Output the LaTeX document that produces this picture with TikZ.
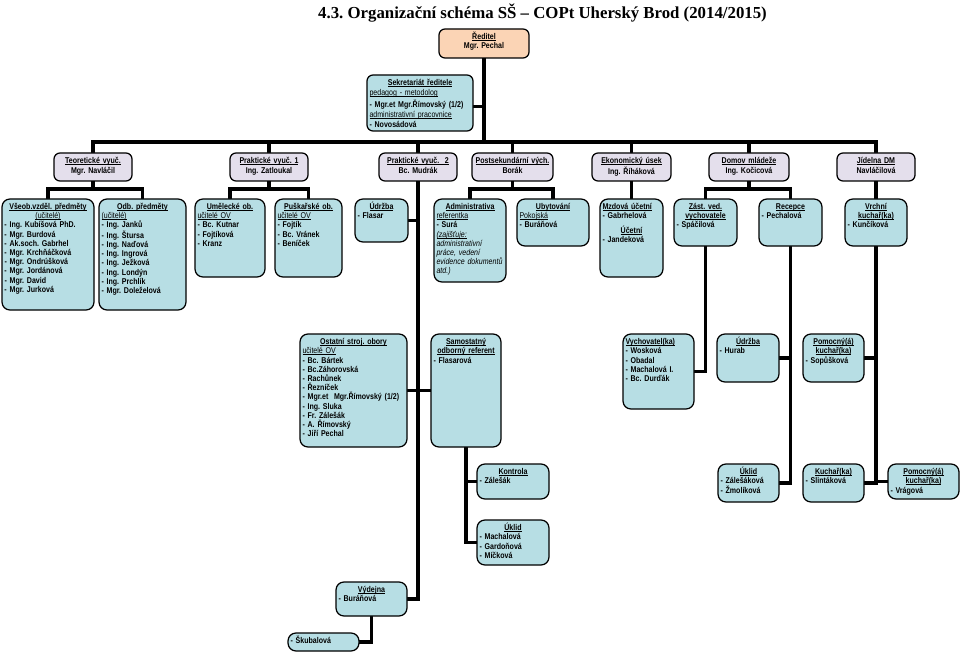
\documentclass[tikz,border=0pt]{standalone}
\usepackage{fontspec}
\setmainfont{Liberation Sans}[FakeStretch=0.84]
\newfontfamily\titlefont{Liberation Serif}
\usetikzlibrary{calc}
\pgfdeclarelayer{bgw}
\pgfdeclarelayer{bg}
\pgfsetlayers{bgw,bg,main}
\definecolor{cBox}{HTML}{B7DEE4}
\definecolor{cLav}{HTML}{E4DFEC}
\definecolor{cPeach}{HTML}{FBD4B5}
\frenchspacing
\newcommand{\ul}[1]{\leavevmode\setbox0\hbox{#1}\rlap{\rule[-1.1pt]{\wd0}{0.55pt}}\box0}
\newcommand{\ct}[1]{\makebox[\linewidth][c]{#1}}
\newcommand{\jt}[1]{\makebox[\linewidth][s]{#1}}
\newcommand{\bx}[7]{%
  \pgfmathsetmacro{\bw}{#5-#3}\pgfmathsetmacro{\bh}{#6-#4}\pgfmathsetmacro{\tw}{#5-#3-5}%
  \node[#2, minimum width=\bw pt, minimum height=\bh pt, anchor=north west] (#1) at (#3,#4) {};
  \node[txt, text width=\tw pt] (#1-t) at ([shift={(2.5pt,-4pt)}]#1.north west) {#7};
}
\tikzset{
  basebox/.style={draw=black, line width=1.25pt, inner sep=0pt, outer sep=0pt, rounded corners=6pt},
  tbox/.style={basebox, fill=cBox},
  lbox/.style={basebox, fill=cLav},
  pbox/.style={basebox, fill=cPeach},
  txt/.style={inner sep=0pt, outer sep=0pt, anchor=north west, align=left, text height=6.6pt,
    font=\frenchspacing\fontsize{8.4}{9.2}\selectfont\bfseries},
  conn/.style={line width=3.2pt, black}
}
\begin{document}
\begin{tikzpicture}[x=1pt,y=-1pt]
\useasboundingbox (0,0) rectangle (960,652);
\begin{pgfonlayer}{bgw}
\fill[white] (0,0) rectangle (960,652);
\end{pgfonlayer}

\node[font=\titlefont\fontsize{16.8}{18}\selectfont\bfseries] (title) at (542.5,13) {4.3. Organizační schéma SŠ – COPt Uherský Brod (2014/2015)};

% top
\bx{dir}{pbox}{439}{29}{529}{58}{\ct{\ul{Ředitel}}\\\ct{Mgr. Pechal}}
\bx{sekr}{tbox}{367}{75}{473}{131}{\ct{\ul{Sekretariát ředitele}}\\[1.1pt]{\mdseries\ul{pedagog - metodolog}}\\[1.1pt]- Mgr.et Mgr.Římovský (1/2)\\[1.1pt]{\mdseries\ul{administrativní pracovnice}}\\[1.1pt]- Novosádová}

% level 2
\bx{teo}{lbox}{54}{153}{132}{181}{\ct{\ul{Teoretické vyuč.}}\\[0.8pt]\ct{Mgr. Navláčil}}
\bx{pv1}{lbox}{230}{153}{308}{181}{\ct{\ul{Praktické vyuč. 1}}\\[0.8pt]\ct{Ing. Zatloukal}}
\bx{pv2}{lbox}{379}{153}{457}{181}{\ct{\ul{Praktické vyuč.~~2}}\\[0.8pt]\ct{Bc. Mudrák}}
\bx{post}{lbox}{472}{153}{553}{181}{\ct{\ul{Postsekundární vých.}}\\[0.8pt]\ct{Borák}}
\bx{eko}{lbox}{592}{153}{671}{181}{\ct{\ul{Ekonomický úsek}}\\[0.8pt]\ct{Ing. Říháková}}
\bx{dom}{lbox}{709}{153}{789}{181}{\ct{\ul{Domov mládeže}}\\[0.8pt]\ct{Ing. Kočicová}}
\bx{jid}{lbox}{837}{153}{915}{181}{\ct{\ul{Jídelna DM}}\\[0.8pt]\ct{Navláčilová}}

% level 3
\tikzset{tbox/.append style={rounded corners=8pt}}
\bx{vseob}{tbox}{2}{199}{94}{310}{\ct{\ul{Všeob.vzděl. předměty}}\\\ct{\mdseries\ul{(učitelé)}}\\- Ing. Kubíšová PhD.\\- Mgr. Burdová\\- Ak.soch. Gabrhel\\- Mgr. Krchňáčková\\- Mgr. Ondrúšková\\- Mgr. Jordánová\\- Mgr. David\\- Mgr. Jurková}
\bx{odb}{tbox}{99}{199}{186}{310}{\ct{\ul{Odb. předměty}}\\{\mdseries\ul{(učitelé)}}\\- Ing. Janků\\- Ing. Štursa\\- Ing. Naďová\\- Ing. Ingrová\\- Ing. Ježková\\- Ing. Londýn\\- Ing. Prchlík\\- Mgr. Doleželová}
\bx{umel}{tbox}{195}{199}{265}{277}{\ct{\ul{Umělecké ob.}}\\{\mdseries\ul{učitelé OV}}\\- Bc. Kutnar\\- Fojtíková\\- Kranz}
\bx{pusk}{tbox}{275}{199}{342}{277}{\ct{\ul{Puškařské ob.}}\\{\mdseries\ul{učitelé OV}}\\- Fojtík\\- Bc. Vránek\\- Beníček}
\bx{udr1}{tbox}{355}{199}{408}{242}{\ct{\ul{Údržba}}\\- Flasar}
\bx{admin}{tbox}{434}{199}{506}{282}{\ct{\ul{Administrativa}}\\{\mdseries\ul{referentka}}\\- Surá\\{\mdseries\itshape\ul{(zajišťuje:}}\\{\mdseries\itshape administrativní}\\\jt{\mdseries\itshape práce, vedení}\\\jt{\mdseries\itshape evidence dokumentů}\\{\mdseries\itshape atd.)}}
\bx{ubyt}{tbox}{517}{199}{589}{246}{\ct{\ul{Ubytování}}\\{\mdseries\ul{Pokojská}}\\- Buráňová}
\bx{mzd}{tbox}{600}{199}{663}{277}{\ul{Mzdová účetní}\\- Gabrhelová\\[5.5pt]\ct{\ul{Účetní}}\\- Jandeková}
\bx{zast}{tbox}{674}{199}{737}{246}{\ct{\ul{Zást. ved.}}\\\ct{\ul{vychovatele}}\\- Spáčilová}
\bx{recep}{tbox}{759}{199}{822}{246}{\ct{\ul{Recepce}}\\- Pechalová}
\bx{vrch}{tbox}{845}{199}{907}{246}{\ct{\ul{Vrchní}}\\\ct{\ul{kuchař(ka)}}\\- Kunčíková}

% lower
\bx{ostat}{tbox}{300}{334}{407}{447}{\ct{\ul{Ostatní stroj. obory}}\\{\mdseries\ul{učitelé OV}}\\- Bc. Bártek\\- Bc.Záhorovská\\- Rachůnek\\- Řezníček\\- Mgr.et~~Mgr.Římovský (1/2)\\- Ing. Sluka\\- Fr. Zálešák\\- A. Římovský\\- Jiří Pechal}
\bx{samo}{tbox}{431}{334}{501}{447}{\ct{\ul{Samostatný}}\\\ct{\ul{odborný referent}}\\- Flasarová}
\bx{kontr}{tbox}{477}{464}{549}{499}{\ct{\ul{Kontrola}}\\- Zálešák}
\bx{ukl1}{tbox}{477}{520}{549}{565}{\ct{\ul{Úklid}}\\- Machalová\\- Gardoňová\\- Míčková}
\bx{vydej}{tbox}{336}{582}{407}{616}{\ct{\ul{Výdejna}}\\- Buráňová}
\bx{skub}{tbox}{288}{633}{359}{651}{- Škubalová}
\bx{vych}{tbox}{623}{334}{694}{409}{\ul{Vychovatel(ka)}\\- Wosková\\- Obadal\\- Machalová I.\\- Bc. Durďák}
\bx{udr2}{tbox}{717}{334}{779}{382}{\ct{\ul{Údržba}}\\- Hurab}
\bx{pom1}{tbox}{803}{334}{864}{382}{\ct{\ul{Pomocný(á)}}\\\ct{\ul{kuchař(ka)}}\\- Sopůšková}
\bx{ukl2}{tbox}{718}{464}{779}{502}{\ct{\ul{Úklid}}\\- Zálešáková\\- Žmolíková}
\bx{kuch}{tbox}{803}{464}{864}{502}{\ct{\ul{Kuchař(ka)}}\\- Slintáková}
\bx{pom2}{tbox}{888}{464}{959}{499}{\ct{\ul{Pomocný(á)}}\\\ct{\ul{kuchař(ka)}}\\- Vrágová}

\begin{pgfonlayer}{bg}
\coordinate (b0) at (484,142);
\draw[conn] (dir.south) -- (b0);
\draw[conn] (teo.north) |- (b0);
\draw[conn] (b0) -| (jid.north);
\foreach \n in {pv1,pv2,post,eko,dom} \draw[conn] (\n.north) -- (\n.north |- b0);
\draw[conn] ([yshift=-3.5pt]sekr.east) -- ([yshift=-3.5pt]sekr.east -| b0);
\coordinate (tb) at (93,189);
\draw[conn] (teo.south) -- (tb);
\draw[conn] (vseob.north) |- (tb) -| (odb.north);
\coordinate (pb) at (269,189);
\draw[conn] (pv1.south) -- (pb);
\draw[conn] (umel.north) |- (pb) -| (pusk.north);
\draw[conn] (pv2.south) |- (vydej.east);
\draw[conn] (udr1.east) -- (udr1.east -| pv2.south);
\draw[conn] (ostat.east) -- (samo.west);
\draw[conn] (samo.south) |- (ukl1.west);
\draw[conn] (kontr.west) -- (kontr.west -| samo.south);
\draw[conn] (vydej.south) |- (skub.east);
\coordinate (sb) at (512.5,189);
\draw[conn] (post.south) -- (sb);
\draw[conn] (admin.north) |- (sb) -| (ubyt.north);
\draw[conn] (eko.south) -- (eko.south |- mzd.north);
\coordinate (db) at (749,189);
\draw[conn] (dom.south) -- (db);
\draw[conn] (zast.north) |- (db) -| (recep.north);
\draw[conn] (zast.south) |- (vych.east);
\draw[conn] (recep.south) |- (ukl2.east);
\draw[conn] (udr2.east) -- (udr2.east -| recep.south);
\draw[conn] (jid.south) -- (jid.south |- vrch.north);
\draw[conn] (vrch.south) |- (kuch.east);
\draw[conn] (pom1.east) -- (pom1.east -| vrch.south);
\draw[conn] (pom2.west) -- (pom2.west -| vrch.south);
\end{pgfonlayer}
\end{tikzpicture}
\end{document}
